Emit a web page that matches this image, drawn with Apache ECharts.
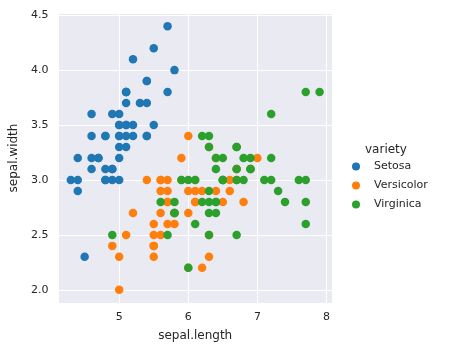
<!DOCTYPE html>
<html>
<head>
<meta charset="utf-8">
<script src="https://cdn.jsdelivr.net/npm/echarts@6/dist/echarts.min.js"></script>
<style>
  html, body { margin: 0; padding: 0; background: #fff; }
  #chart { width: 453px; height: 354px; }
</style>
</head>
<body>
<div id="chart"></div>
<script>
// iris: [sepal.length, sepal.width]
const setosa = [
  [5.1,3.5],[4.9,3.0],[4.7,3.2],[4.6,3.1],[5.0,3.6],[5.4,3.9],[4.6,3.4],[5.0,3.4],[4.4,2.9],[4.9,3.1],
  [5.4,3.7],[4.8,3.4],[4.8,3.0],[4.3,3.0],[5.8,4.0],[5.7,4.4],[5.4,3.9],[5.1,3.5],[5.7,3.8],[5.1,3.8],
  [5.4,3.4],[5.1,3.7],[4.6,3.6],[5.1,3.3],[4.8,3.4],[5.0,3.0],[5.0,3.4],[5.2,3.5],[5.2,3.4],[4.7,3.2],
  [4.8,3.1],[5.4,3.4],[5.2,4.1],[5.5,4.2],[4.9,3.1],[5.0,3.2],[5.5,3.5],[4.9,3.6],[4.4,3.0],[5.1,3.4],
  [5.0,3.5],[4.5,2.3],[4.4,3.2],[5.0,3.5],[5.1,3.8],[4.8,3.0],[5.1,3.8],[4.6,3.2],[5.3,3.7],[5.0,3.3]
];
const versicolor = [
  [7.0,3.2],[6.4,3.2],[6.9,3.1],[5.5,2.3],[6.5,2.8],[5.7,2.8],[6.3,3.3],[4.9,2.4],[6.6,2.9],[5.2,2.7],
  [5.0,2.0],[5.9,3.0],[6.0,2.2],[6.1,2.9],[5.6,2.9],[6.7,3.1],[5.6,3.0],[5.8,2.7],[6.2,2.2],[5.6,2.5],
  [5.9,3.2],[6.1,2.8],[6.3,2.5],[6.1,2.8],[6.4,2.9],[6.6,3.0],[6.8,2.8],[6.7,3.0],[6.0,2.9],[5.7,2.6],
  [5.5,2.4],[5.5,2.4],[5.8,2.7],[6.0,2.7],[5.4,3.0],[6.0,3.4],[6.7,3.1],[6.3,2.3],[5.6,3.0],[5.5,2.5],
  [5.5,2.6],[6.1,3.0],[5.8,2.6],[5.0,2.3],[5.6,2.7],[5.7,3.0],[5.7,2.9],[6.2,2.9],[5.1,2.5],[5.7,2.8]
];
const virginica = [
  [6.3,3.3],[5.8,2.7],[7.1,3.0],[6.3,2.9],[6.5,3.0],[7.6,3.0],[4.9,2.5],[7.3,2.9],[6.7,2.5],[7.2,3.6],
  [6.5,3.2],[6.4,2.7],[6.8,3.0],[5.7,2.5],[5.8,2.8],[6.4,3.2],[6.5,3.0],[7.7,3.8],[7.7,2.6],[6.0,2.2],
  [6.9,3.2],[5.6,2.8],[7.7,2.8],[6.3,2.7],[6.7,3.3],[7.2,3.2],[6.2,2.8],[6.1,3.0],[6.4,2.8],[7.2,3.0],
  [7.4,2.8],[7.9,3.8],[6.4,2.8],[6.3,2.8],[6.1,2.6],[7.7,3.0],[6.3,3.4],[6.4,3.1],[6.0,3.0],[6.9,3.1],
  [6.7,3.1],[6.9,3.1],[5.8,2.7],[6.8,3.2],[6.7,3.3],[6.7,3.0],[6.3,2.5],[6.5,3.0],[6.2,3.4],[5.9,3.0]
];
const varieties = ['Setosa', 'Versicolor', 'Virginica'];
const colors = ['#1f77b4', '#ff7f0e', '#2ca02c'];

let myChart = echarts.init(document.getElementById('chart'));
const textColor = '#262626';
const font = 'DejaVu Sans';

let option = {
  animation: false,
  color: colors,
  title: {
    text: 'variety',
    left: 360, top: 139,
    textStyle: { fontSize: 12, fontWeight: 'normal', color: textColor, fontFamily: font }
  },
  legend: {
    orient: 'vertical',
    left: 347, top: 156,
    itemWidth: 8, itemHeight: 8, itemGap: 8,
    icon: 'circle',
    data: varieties,
    textStyle: { fontSize: 11, color: textColor, fontFamily: font, padding: [0, 0, 0, 9] }
  },
  grid: {
    left: 54, right: 121, top: 13, bottom: 51,
    show: true, backgroundColor: '#eaeaf2', borderWidth: 0
  },
  xAxis: {
    type: 'value',
    min: 4.12, max: 8.08,
    splitNumber: 5,
    name: 'sepal.length',
    nameLocation: 'middle',
    nameGap: 27,
    nameTextStyle: { fontSize: 12, color: textColor, fontFamily: font },
    axisLine: { show: false },
    axisTick: { show: false },
    axisLabel: { fontSize: 11, color: textColor, fontFamily: font, margin: 9, showMinLabel: false, showMaxLabel: false },
    splitLine: { show: true, lineStyle: { color: '#ffffff', width: 1 } }
  },
  yAxis: {
    type: 'value',
    min: 1.88, max: 4.52,
    splitNumber: 5,
    name: 'sepal.width',
    nameLocation: 'middle',
    nameGap: 35,
    nameTextStyle: { fontSize: 12, color: textColor, fontFamily: font },
    axisLine: { show: false },
    axisTick: { show: false },
    axisLabel: {
      fontSize: 11, color: textColor, fontFamily: font, margin: 10,
      showMinLabel: false, showMaxLabel: false,
      formatter: v => v.toFixed(1)
    },
    splitLine: { show: true, lineStyle: { color: '#ffffff', width: 1 } }
  },
  series: [
    { name: varieties[0], type: 'scatter', data: setosa, symbolSize: 8.5, itemStyle: { opacity: 1 } },
    { name: varieties[1], type: 'scatter', data: versicolor, symbolSize: 8.5, itemStyle: { opacity: 1 } },
    { name: varieties[2], type: 'scatter', data: virginica, symbolSize: 8.5, itemStyle: { opacity: 1 } }
  ]
};
myChart.setOption(option);
</script>
</body>
</html>
